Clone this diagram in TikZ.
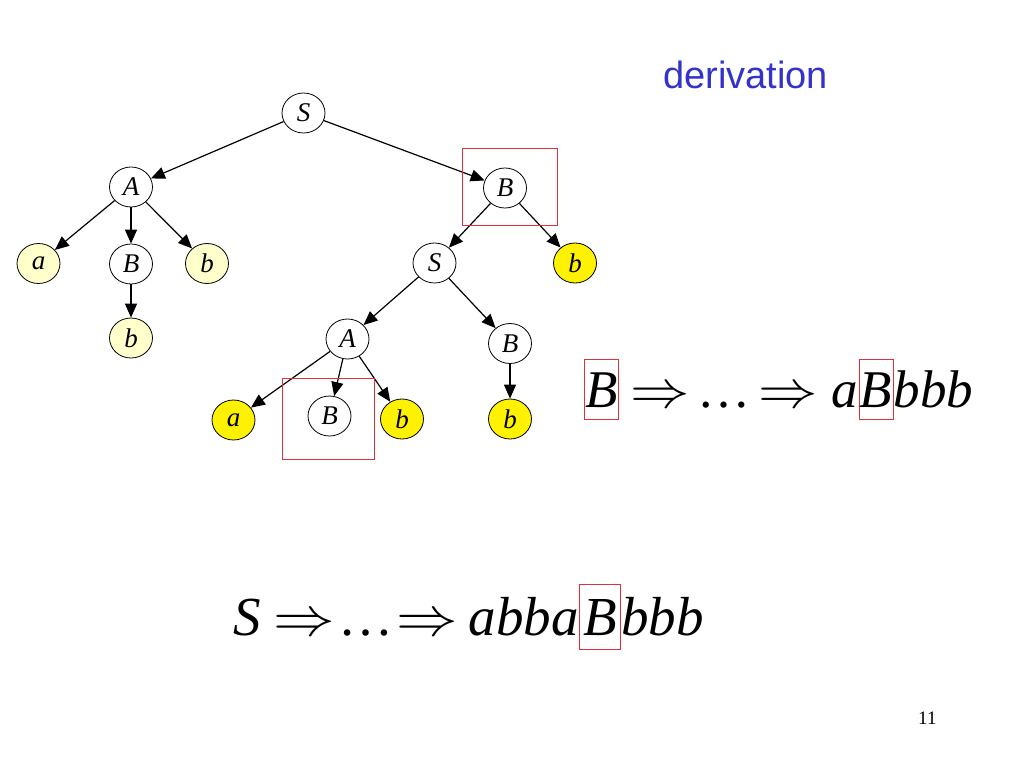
\documentclass[tikz,border=0pt]{standalone}
\usepackage{fix-cm}
\usepackage{fontspec}
\setmainfont{Liberation Serif}
\setsansfont{Liberation Sans}
\usepackage{tikz}
\usetikzlibrary{shapes,arrows.meta}

\definecolor{paleyellow}{HTML}{FFFFCC}
\definecolor{hlred}{HTML}{E0303C}
\definecolor{titleblue}{HTML}{3333CC}
\newcommand{\impl}{\scalebox{1.12}[1]{$\Rightarrow$}}

\begin{document}
\begin{tikzpicture}[x=1pt,y=-1pt]
\tikzstyle{sym}=[
  ellipse, draw, line width=0.8pt,
  minimum width=43pt, minimum height=40pt, inner sep=0pt,
  font=\fontsize{27}{30}\selectfont\itshape ]
\tikzstyle{term}=[sym, fill=paleyellow]
\tikzstyle{leaf}=[sym, fill=yellow]
\tikzstyle{edge}=[-{Triangle[length=14pt,width=12pt]}, line width=1.2pt]
\tikzstyle{hl}=[draw=hlred, line width=0.9pt]
\tikzstyle{expr}=[inner sep=0pt, anchor=base west, font=\fontsize{53}{60}\selectfont]
\tikzstyle{exprbig}=[inner sep=0pt, anchor=base west, font=\fontsize{55}{62}\selectfont]
\useasboundingbox (0,0) rectangle (1024,768);
% tree
\node[sym] (S0) at (303.5,113) {S};
\node[sym] (A1) at (131,187) {A};
\node[sym] (B1) at (505,188) {B};
\node[term] (a1) at (38.5,263.5) {a};
\node[sym] (B2) at (131,264) {B};
\node[term] (b1) at (207,263.5) {b};
\node[term] (b2) at (131,338) {b};
\node[sym] (S1) at (434.5,263) {S};
\node[leaf] (b3) at (575,263) {b};
\node[sym] (A2) at (347.5,339) {A};
\node[sym] (B4) at (510,343.5) {B};
\node[leaf] (a2) at (233.5,420) {a};
\node[sym] (B3) at (329.5,416) {B};
\node[leaf] (b4) at (402,419) {b};
\node[leaf] (b5) at (510,419) {b};
\draw[edge] (S0) -- (A1);
\draw[edge] (S0) -- (B1);
\draw[edge] (A1) -- (a1);
\draw[edge] (A1) -- (B2);
\draw[edge] (A1) -- (b1);
\draw[edge] (B2) -- (b2);
\draw[edge] (B1) -- (S1);
\draw[edge] (B1) -- (b3);
\draw[edge] (S1) -- (A2);
\draw[edge] (S1) -- (B4);
\draw[edge] (A2) -- (a2);
\draw[edge] (A2) -- (B3);
\draw[edge] (A2) -- (b4);
\draw[edge] (B4) -- (b5);
\draw[hl] ([shift={(-43,-40)}]B1.center) rectangle ([shift={(52,37)}]B1.center);
\draw[hl] ([shift={(-47.5,-38)}]B3.center) rectangle ([shift={(44.5,43)}]B3.center);
% derivations
\node[expr, hl, minimum width=34pt, minimum height=60pt] (fB) at (584,407) {\textit{B}};
\node[expr] (fmid) at (fB.base east)
  {\hspace{11pt}\impl\hspace{8pt}…\hspace{8pt}\impl\hspace{14pt}\textit{a}};
\node[expr, hl, minimum width=34pt, minimum height=60pt] (fB2) at (fmid.base east) {\textit{B}};
\node[expr] (ftail) at (fB2.base east) {\textit{bbb}};
\node[exprbig] (gS) at (233,635)
  {\textit{S}\hspace{13pt}\impl\hspace{3pt}…\hspace{3pt}\impl\hspace{11pt}\textit{abba}};
\node[exprbig, hl, minimum width=41pt, minimum height=65pt] (gB) at (gS.base east) {\textit{B}};
\node[exprbig] (gtail) at (gB.base east) {\textit{bbb}};
\node[inner sep=0pt, anchor=base west, text=titleblue,
  font=\sffamily\fontsize{38}{40}\selectfont] (title) at (663,88) {derivation};
\node[inner sep=0pt, anchor=base west, font=\fontsize{19}{20}\selectfont] (page) at (918,724) {11};
\end{tikzpicture}
\end{document}
